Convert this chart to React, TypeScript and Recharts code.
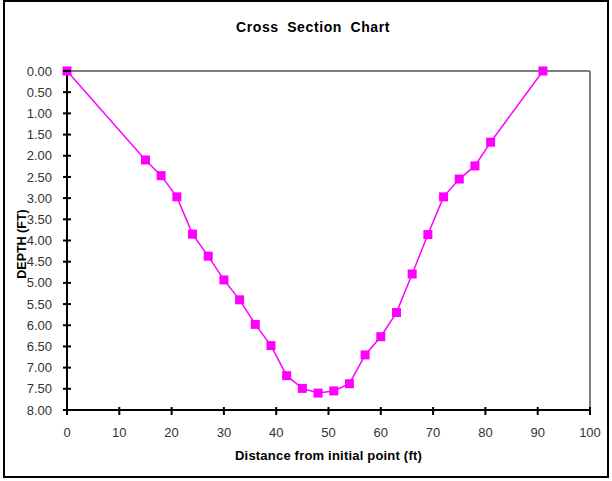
import { LineChart, Line, XAxis, YAxis, ReferenceLine } from "recharts";

// Survey stations across the channel (ft from initial point) and measured depth (ft)
const distance = [0, 15, 18, 21, 24, 27, 30, 33, 36, 39, 42, 45, 48, 51, 54, 57, 60, 63, 66, 69, 72, 75, 78, 81, 91];
const depth = [0, 2.1, 2.47, 2.97, 3.85, 4.37, 4.93, 5.4, 5.98, 6.48, 7.19, 7.49, 7.6, 7.55, 7.38, 6.7, 6.27, 5.7, 4.79, 3.86, 2.97, 2.55, 2.24, 1.68, 0];

const xTicks = [0, 10, 20, 30, 40, 50, 60, 70, 80, 90, 100];
const yTicks = [0, 0.5, 1, 1.5, 2, 2.5, 3, 3.5, 4, 4.5, 5, 5.5, 6, 6.5, 7, 7.5, 8];

const data = distance.map((d, i) => ({ distance: d, depth: depth[i] }));

const FONT = '"Liberation Sans", Arial, sans-serif';
const MAGENTA = "#FF00FF";
const Y_MARGIN = 15;
const X_MARGIN = 18;

// Ticks cross the axis line (half inside, half outside), like the spreadsheet style
function YTick(props: any) {
  const { x, y, payload } = props;
  const axisX = x + Y_MARGIN;
  return (
    <g>
      <line x1={axisX - 4} x2={axisX + 4} y1={y} y2={y} stroke="#000" strokeWidth={2} />
      <text x={x} y={y} dy="0.355em" textAnchor="end" fontSize={13} fontFamily={FONT} fill="#333">
        {Number(payload.value).toFixed(2)}
      </text>
    </g>
  );
}

function XTick(props: any) {
  const { x, y, payload } = props;
  const axisY = y - X_MARGIN;
  return (
    <g>
      <line x1={x} x2={x} y1={axisY - 3} y2={axisY + 5} stroke="#000" strokeWidth={2} />
      <text x={x} y={y} dy="0.71em" textAnchor="middle" fontSize={13} fontFamily={FONT} fill="#333">
        {payload.value}
      </text>
    </g>
  );
}

function SquareDot(props: any) {
  const { cx, cy } = props;
  if (cx == null || cy == null) return null;
  return <rect x={cx - 4.5} y={cy - 4.5} width={9} height={9} fill={MAGENTA} />;
}

export default function App() {
  return (
    <div style={{ position: "absolute", left: 0, top: 0, width: 612, height: 481, background: "#fff", fontFamily: FONT }}>
      <div
        style={{
          position: "absolute",
          left: 3,
          top: 0,
          width: 606,
          height: 478,
          border: "2px solid #000",
          boxSizing: "border-box",
        }}
      />
      <div
        style={{
          position: "absolute",
          left: 0,
          top: 19,
          width: 626,
          textAlign: "center",
          fontSize: 14,
          fontWeight: "bold",
          letterSpacing: 0.6,
          wordSpacing: 4,
          color: "#000",
        }}
      >
        Cross Section Chart
      </div>
      <div
        style={{
          position: "absolute",
          left: 22,
          top: 244,
          transform: "translate(-50%, -50%) rotate(-90deg)",
          fontSize: 12.5,
          fontWeight: "bold",
          whiteSpace: "nowrap",
          color: "#000",
        }}
      >
        DEPTH (FT)
      </div>
      <div
        style={{
          position: "absolute",
          left: 67,
          width: 523,
          top: 448,
          textAlign: "center",
          fontSize: 13,
          fontWeight: "bold",
          letterSpacing: 0.2,
          color: "#000",
        }}
      >
        Distance from initial point (ft)
      </div>
      <div style={{ position: "absolute", left: 0, top: 0 }}>
        <LineChart width={612} height={481} data={data} margin={{ top: 71, right: 22, bottom: 0, left: 0 }}>
          <XAxis
            type="number"
            dataKey="distance"
            domain={[0, 100]}
            ticks={xTicks}
            interval={0}
            height={71}
            tickSize={0}
            tickMargin={X_MARGIN}
            tickLine={false}
            tick={<XTick />}
            axisLine={{ stroke: "#000", strokeWidth: 2 }}
          />
          <YAxis
            type="number"
            dataKey="depth"
            domain={[0, 8]}
            reversed
            ticks={yTicks}
            interval={0}
            width={67}
            tickSize={0}
            tickMargin={Y_MARGIN}
            tickLine={false}
            tick={<YTick />}
            axisLine={{ stroke: "#000", strokeWidth: 2 }}
          />
          {/* grey plot-area border on top and right */}
          <ReferenceLine y={0} stroke="#808080" strokeWidth={2} />
          <ReferenceLine x={100} stroke="#808080" strokeWidth={2} />
          <Line
            type="linear"
            dataKey="depth"
            stroke={MAGENTA}
            strokeWidth={1.5}
            dot={<SquareDot />}
            activeDot={false}
            isAnimationActive={false}
          />
        </LineChart>
      </div>
    </div>
  );
}
